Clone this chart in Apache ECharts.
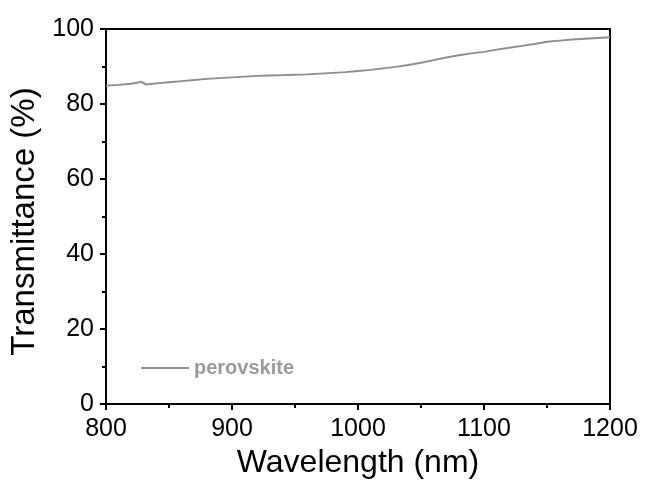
<!DOCTYPE html>
<html>
<head>
<meta charset="utf-8">
<script src="https://cdn.jsdelivr.net/npm/echarts@6/dist/echarts.min.js"></script>
<style>html,body{margin:0;padding:0;background:#fff}#c{width:645px;height:484px}</style>
</head>
<body>
<div id="c"></div>
<script>
const wavelengths = [800,810,820,828,832,840,850,860,870,880,890,900,910,920,930,940,950,960,970,980,990,1000,1010,1020,1030,1040,1050,1060,1070,1080,1090,1100,1110,1120,1130,1140,1150,1160,1170,1180,1190,1200];
const transmittance = [84.9,85.1,85.4,85.9,85.2,85.5,85.8,86.1,86.4,86.7,86.9,87.1,87.3,87.5,87.6,87.7,87.8,87.9,88.1,88.3,88.5,88.8,89.1,89.5,89.9,90.4,91.0,91.7,92.4,93.0,93.5,93.9,94.5,95.0,95.5,96.0,96.6,96.9,97.2,97.4,97.6,97.8];
const seriesName = 'perovskite';
const xName = 'Wavelength (nm)';
const yName = 'Transmittance (%)';

const chart = echarts.init(document.getElementById('c'), null, {renderer: 'canvas'});
const font = 'Liberation Sans, Arial, sans-serif';
chart.setOption({
  animation: false,
  grid: {left: 106, right: 35, top: 29, bottom: 80, show: true, borderColor: '#000', borderWidth: 2, backgroundColor: 'transparent'},
  legend: {
    left: 136, top: 353,
    itemWidth: 48, itemHeight: 10, itemGap: 10,
    icon: 'path://M0,4 L48,4 L48,6 L0,6 Z',
    textStyle: {color: '#9a9a9a', fontWeight: 'bold', fontSize: 20, fontFamily: font},
    data: [seriesName]
  },
  xAxis: {
    type: 'value', min: 800, max: 1200, interval: 100,
    name: xName, nameLocation: 'middle', nameGap: 41,
    nameTextStyle: {fontSize: 32, color: '#000', fontFamily: font},
    axisLine: {lineStyle: {color: '#000', width: 2}},
    axisTick: {inside: false, length: 6, lineStyle: {color: '#000', width: 2}},
    minorTick: {show: true, splitNumber: 2, length: 4, lineStyle: {color: '#000', width: 2}},
    axisLabel: {fontSize: 25, color: '#000', fontFamily: font, margin: 13, formatter: v => String(v)},
    splitLine: {show: false}
  },
  yAxis: {
    type: 'value', min: 0, max: 100, interval: 20,
    name: yName, nameLocation: 'middle', nameGap: 62,
    nameTextStyle: {fontSize: 33, color: '#000', fontFamily: font, padding: [0, 10, 0, 0]},
    axisLine: {lineStyle: {color: '#000', width: 2}},
    axisTick: {inside: false, length: 6, lineStyle: {color: '#000', width: 2}},
    minorTick: {show: true, splitNumber: 2, length: 4, lineStyle: {color: '#000', width: 2}},
    axisLabel: {fontSize: 25, color: '#000', fontFamily: font, margin: 12, formatter: v => String(v)},
    splitLine: {show: false}
  },
  series: [{
    name: seriesName,
    type: 'line',
    data: wavelengths.map((w, i) => [w, transmittance[i]]),
    showSymbol: false,
    lineStyle: {color: '#8e8e8e', width: 2},
    itemStyle: {color: '#8e8e8e'}
  }]
});
</script>
</body>
</html>
